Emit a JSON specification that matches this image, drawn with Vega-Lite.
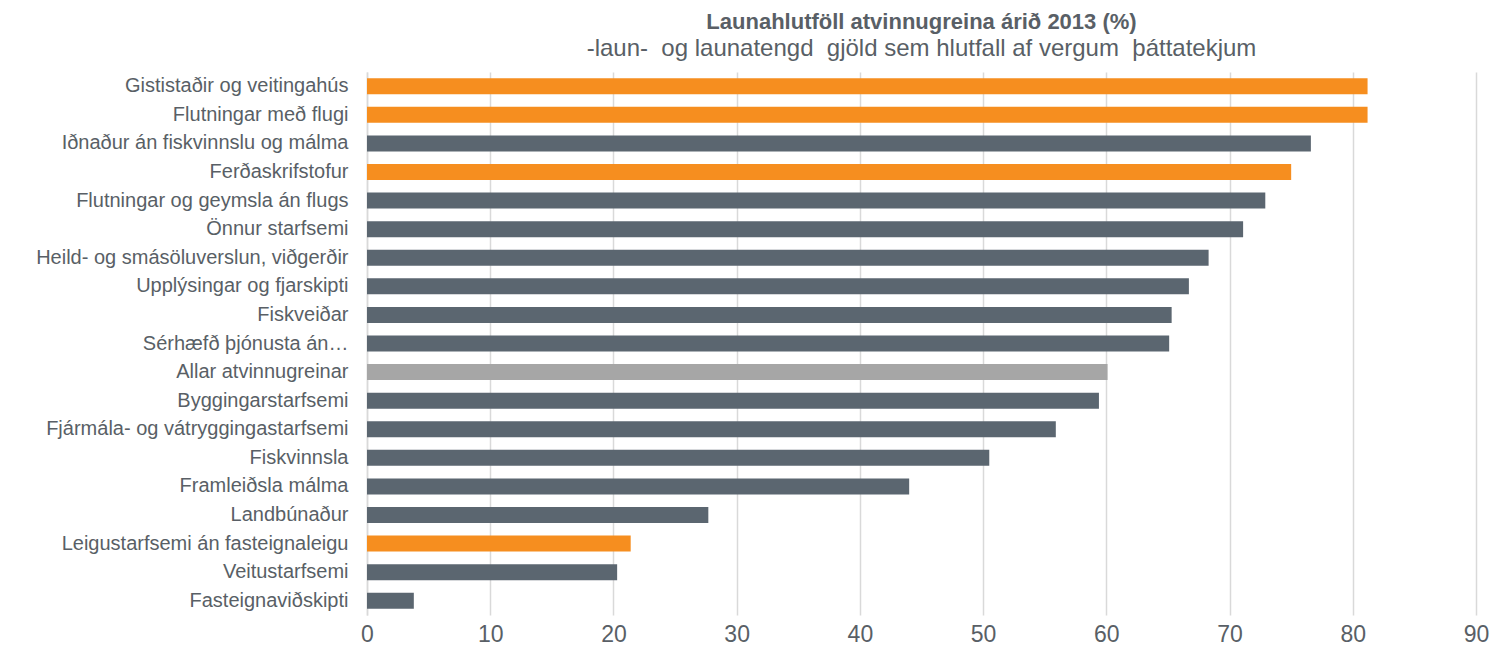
{
  "$schema": "https://vega.github.io/schema/vega-lite/v6.json",
  "autosize": "none",
  "width": 1109,
  "height": 543,
  "padding": {"left": 367, "top": 72, "right": 19, "bottom": 41},
  "background": "white",
  "title": {
    "text": "Launahlutföll atvinnugreina árið 2013 (%)",
    "subtitle": "-laun- \u00a0og launatengd \u00a0gjöld sem hlutfall af vergum \u00a0þáttatekjum",
    "anchor": "middle",
    "font": "Liberation Sans",
    "fontSize": 22,
    "fontWeight": "bold",
    "color": "#595f66",
    "subtitleFont": "Liberation Sans",
    "subtitleFontSize": 24,
    "subtitleColor": "#595f66",
    "subtitlePadding": 3,
    "offset": 10
  },
  "data": {
    "values": [
      {"grein": "Gististaðir og veitingahús", "hlutfall": 81.2, "hopur": "ferdathjonusta"},
      {"grein": "Flutningar með flugi", "hlutfall": 81.2, "hopur": "ferdathjonusta"},
      {"grein": "Iðnaður án fiskvinnslu og málma", "hlutfall": 76.6, "hopur": "annad"},
      {"grein": "Ferðaskrifstofur", "hlutfall": 75.0, "hopur": "ferdathjonusta"},
      {"grein": "Flutningar og geymsla án flugs", "hlutfall": 72.9, "hopur": "annad"},
      {"grein": "Önnur starfsemi", "hlutfall": 71.1, "hopur": "annad"},
      {"grein": "Heild- og smásöluverslun, viðgerðir", "hlutfall": 68.3, "hopur": "annad"},
      {"grein": "Upplýsingar og fjarskipti", "hlutfall": 66.7, "hopur": "annad"},
      {"grein": "Fiskveiðar", "hlutfall": 65.3, "hopur": "annad"},
      {"grein": "Sérhæfð þjónusta án…", "hlutfall": 65.1, "hopur": "annad"},
      {"grein": "Allar atvinnugreinar", "hlutfall": 60.1, "hopur": "allar"},
      {"grein": "Byggingarstarfsemi", "hlutfall": 59.4, "hopur": "annad"},
      {"grein": "Fjármála- og vátryggingastarfsemi", "hlutfall": 55.9, "hopur": "annad"},
      {"grein": "Fiskvinnsla", "hlutfall": 50.5, "hopur": "annad"},
      {"grein": "Framleiðsla málma", "hlutfall": 44.0, "hopur": "annad"},
      {"grein": "Landbúnaður", "hlutfall": 27.7, "hopur": "annad"},
      {"grein": "Leigustarfsemi án fasteignaleigu", "hlutfall": 21.4, "hopur": "ferdathjonusta"},
      {"grein": "Veitustarfsemi", "hlutfall": 20.3, "hopur": "annad"},
      {"grein": "Fasteignaviðskipti", "hlutfall": 3.8, "hopur": "annad"}
    ]
  },
  "mark": {"type": "bar"},
  "encoding": {
    "y": {
      "field": "grein",
      "type": "nominal",
      "sort": null,
      "title": null,
      "scale": {"paddingInner": 0.44, "paddingOuter": 0.22},
      "axis": {
        "labelFont": "Liberation Sans",
        "labelFontSize": 20,
        "labelColor": "#595f66",
        "labelPadding": 19,
        "labelLimit": 400,
        "ticks": false,
        "domain": true,
        "domainColor": "#d9d9d9",
        "domainWidth": 1.5
      }
    },
    "x": {
      "field": "hlutfall",
      "type": "quantitative",
      "title": null,
      "scale": {"domain": [0, 90], "nice": false},
      "axis": {
        "values": [0, 10, 20, 30, 40, 50, 60, 70, 80, 90],
        "labelFont": "Liberation Sans",
        "labelFontSize": 23,
        "labelColor": "#595f66",
        "labelPadding": 8,
        "labelFlush": false,
        "ticks": false,
        "domain": false,
        "grid": true,
        "gridColor": "#d9d9d9",
        "gridWidth": 1.5
      }
    },
    "color": {
      "field": "hopur",
      "type": "nominal",
      "legend": null,
      "scale": {
        "domain": ["ferdathjonusta", "annad", "allar"],
        "range": ["#f68e1f", "#5b6670", "#a6a6a6"]
      }
    }
  },
  "config": {"view": {"stroke": null}}
}
